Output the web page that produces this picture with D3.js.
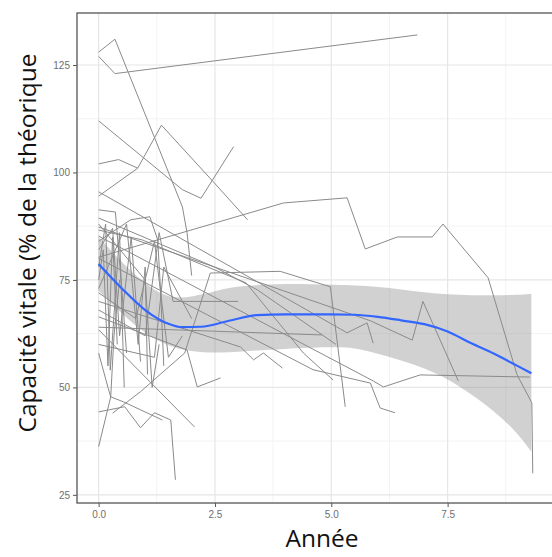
<!DOCTYPE html>
<html>
<head>
<meta charset="utf-8">
<script src="https://d3js.org/d3.v7.min.js"></script>
<style>
  body { margin: 0; background: #fff; }
  .tick text { font-family: "Liberation Sans", Arial, sans-serif; font-size: 10px; fill: #6e6e6e; }
  .axtitle { font-family: "Open Sans", sans-serif; font-size: 24.5px; fill: #111; }
</style>
</head>
<body>
<svg id="chart" width="552" height="557"></svg>
<script>
// axis ticks
var xTicks = [0, 2.5, 5, 7.5];
var yTicks = [25, 50, 75, 100, 125];
var xMinor = [1.25, 3.75, 6.25, 8.75];
var yMinor = [37.5, 62.5, 87.5, 112.5];

// one trajectory per patient: [annee, capacite]
var patients = [
  [[0,127],[0.35,123],[6.85,132]],
  [[0,128],[0.35,131],[1.8,92],[1.9,86],[2.0,76]],
  [[0,112],[1.8,96],[2.2,94],[2.9,106]],
  [[0,102],[0.43,103],[0.84,101],[1.35,111],[2.45,98],[3.2,89]],
  [[0,94.5],[0.84,101]],
  [[0,95.5],[5.34,62.7],[5.77,65],[5.9,60.3]],
  [[0,80.3],[3.97,92.9],[5.34,94.1],[5.73,82.2],[6.42,85],[7.17,85],[7.4,88],[8.37,75.5],[8.99,53],[9.31,46.4],[9.33,30]],
  [[0.3,44],[0.9,49],[1.85,58],[2.4,76.6],[3.9,77],[4.98,73.4],[5.3,45.5]],
  [[0,87.3],[5.84,65.5],[6.74,61],[6.97,70],[7.73,51.5]],
  [[0,85.2],[5.9,51.5],[6.12,50.1],[6.91,52.9],[9.27,52.4]],
  [[0,64],[4.8,62.2]],
  [[0,44.3],[0.56,45.5],[0.9,40.6],[1.2,44.1],[1.55,42.4],[1.65,28.5]],
  [[0,36.2],[0.26,47.8],[0.33,62],[0.45,75]],
  [[0,58],[0.2,50],[0.26,47.8],[0.54,46.6],[1.37,42.4]],
  [[0,91.3],[0.36,90.8],[0.5,72.7],[0.6,58]],
  [[0,89.4],[2.49,78],[3.41,72.7],[5.1,60]],
  [[0,86.6],[0.94,84.3],[3.17,74.3],[4.4,58],[5.04,51.7]],
  [[0,84],[0.69,89],[1.1,89.7],[1.27,84.3],[1.33,72.7],[1.4,55]],
  [[0,66.4],[1.9,58.7],[2.12,50.1],[2.62,52.2]],
  [[0,63.4],[2.06,40.8]],
  [[0,70],[3.05,59.4],[3.33,56.4],[3.54,58],[3.95,54.5]],
  [[0,75],[0.1,82],[0.2,55],[0.3,85],[0.4,60]],
  [[0,78],[0.15,88],[0.25,54],[0.45,86],[0.55,50]],
  [[0,82],[0.3,87],[0.45,62],[0.7,85],[0.9,56]],
  [[0,73],[0.6,88],[0.85,60],[1.0,78],[1.05,53]],
  [[0,68],[1.0,62],[1.3,86],[1.6,70],[3.0,70]],
  [[0,80],[4.61,54.1],[5.84,51],[6.05,45.2],[6.37,44.1]],
  [[0,60],[1.2,57],[1.4,78],[2.0,66]],
  [[0,88],[1.0,75],[1.15,50],[1.3,60]],
  [[0,72],[0.8,66],[1.2,84],[1.5,57],[1.8,62]]
];

// loess smooth and its confidence band
var smoothX = [0, 0.5, 1, 1.5, 1.8, 2.2, 2.8, 3.4, 4, 5, 5.5, 6, 6.5, 7, 7.5, 8, 8.5, 9, 9.3];
var smoothY = [78.7, 73, 68, 64.8, 64, 64.1, 65.5, 66.8, 67, 67, 66.9, 66.4, 65.6, 64.7, 63, 60.3, 57.8, 55, 53.3];
var bandX  = [0, 0.5, 1, 1.5, 2, 2.5, 3, 4, 5, 5.5, 6, 6.5, 7, 7.5, 8, 8.5, 9, 9.3];
var bandLo = [72.5, 67, 62.5, 59.5, 58.3, 58, 58.3, 59, 59.4, 59.3, 57.8, 56.3, 54.5, 52, 48.5, 44.5, 39.5, 35];
var bandHi = [85, 79, 74, 70.6, 71, 72.4, 73.6, 74.2, 73.9, 73.7, 73.4, 72.8, 72.1, 71.6, 71.4, 71.4, 71.5, 71.8];

var svg = d3.select("#chart");
var margin = {top: 13, right: -1, bottom: 54, left: 77};
var width = 552, height = 557;

var x = d3.scaleLinear().domain([-0.465, 9.765]).range([margin.left, width - margin.right]);
var y = d3.scaleLinear().domain([23.1, 137.1]).range([height - margin.bottom, margin.top]);

svg.append("clipPath").attr("id", "panel")
  .append("rect")
  .attr("x", margin.left).attr("y", margin.top)
  .attr("width", width - margin.right - margin.left)
  .attr("height", height - margin.bottom - margin.top);

// grid
var grid = svg.append("g");
grid.selectAll(".xminor").data(xMinor).enter().append("line")
  .attr("x1", d => x(d)).attr("x2", d => x(d))
  .attr("y1", margin.top).attr("y2", height - margin.bottom)
  .attr("stroke", "#f3f3f3").attr("stroke-width", 1);
grid.selectAll(".yminor").data(yMinor).enter().append("line")
  .attr("y1", d => y(d)).attr("y2", d => y(d))
  .attr("x1", margin.left).attr("x2", width - margin.right)
  .attr("stroke", "#f3f3f3").attr("stroke-width", 1);
grid.selectAll(".xmajor").data(xTicks).enter().append("line")
  .attr("x1", d => x(d)).attr("x2", d => x(d))
  .attr("y1", margin.top).attr("y2", height - margin.bottom)
  .attr("stroke", "#e6e6e6").attr("stroke-width", 1.2);
grid.selectAll(".ymajor").data(yTicks).enter().append("line")
  .attr("y1", d => y(d)).attr("y2", d => y(d))
  .attr("x1", margin.left).attr("x2", width - margin.right)
  .attr("stroke", "#e6e6e6").attr("stroke-width", 1.2);

var plot = svg.append("g").attr("clip-path", "url(#panel)");

var line = d3.line().x(d => x(d[0])).y(d => y(d[1]));

plot.selectAll(".patient")
  .data(patients)
  .enter().append("path")
  .attr("class", "patient")
  .attr("d", line)
  .attr("fill", "none")
  .attr("stroke", "#8a8a8a")
  .attr("stroke-width", 1);

var area = d3.area()
  .x((d, i) => x(bandX[i]))
  .y0((d, i) => y(bandLo[i]))
  .y1((d, i) => y(bandHi[i]))
  .curve(d3.curveBasis);

plot.append("path")
  .datum(bandX)
  .attr("d", area)
  .attr("fill", "#8c8c8c")
  .attr("fill-opacity", 0.4);

var smooth = d3.line()
  .x((d, i) => x(smoothX[i]))
  .y((d, i) => y(smoothY[i]))
  .curve(d3.curveMonotoneX);

plot.append("path")
  .datum(smoothX)
  .attr("d", smooth)
  .attr("fill", "none")
  .attr("stroke", "#3366ff")
  .attr("stroke-width", 2.2);

// panel border
svg.append("rect")
  .attr("x", margin.left).attr("y", margin.top)
  .attr("width", width - margin.right - margin.left)
  .attr("height", height - margin.bottom - margin.top)
  .attr("fill", "none")
  .attr("stroke", "#555")
  .attr("stroke-width", 1.3);

// axes
var xAxis = svg.append("g")
  .attr("transform", `translate(0,${height - margin.bottom})`)
  .call(d3.axisBottom(x).tickValues(xTicks).tickFormat(d3.format(".1f")).tickSize(4).tickPadding(4));
var yAxis = svg.append("g")
  .attr("transform", `translate(${margin.left},0)`)
  .call(d3.axisLeft(y).tickValues(yTicks).tickSize(4).tickPadding(3));
[xAxis, yAxis].forEach(function(g) {
  g.select(".domain").remove();
  g.selectAll(".tick line").attr("stroke", "#555");
});

svg.append("text")
  .attr("class", "axtitle")
  .attr("x", 322).attr("y", 547)
  .attr("text-anchor", "middle")
  .text("Année");

svg.append("text")
  .attr("class", "axtitle")
  .attr("transform", "translate(36,243) rotate(-90)")
  .attr("text-anchor", "middle")
  .text("Capacité vitale (% de la théorique");
</script>
</body>
</html>
